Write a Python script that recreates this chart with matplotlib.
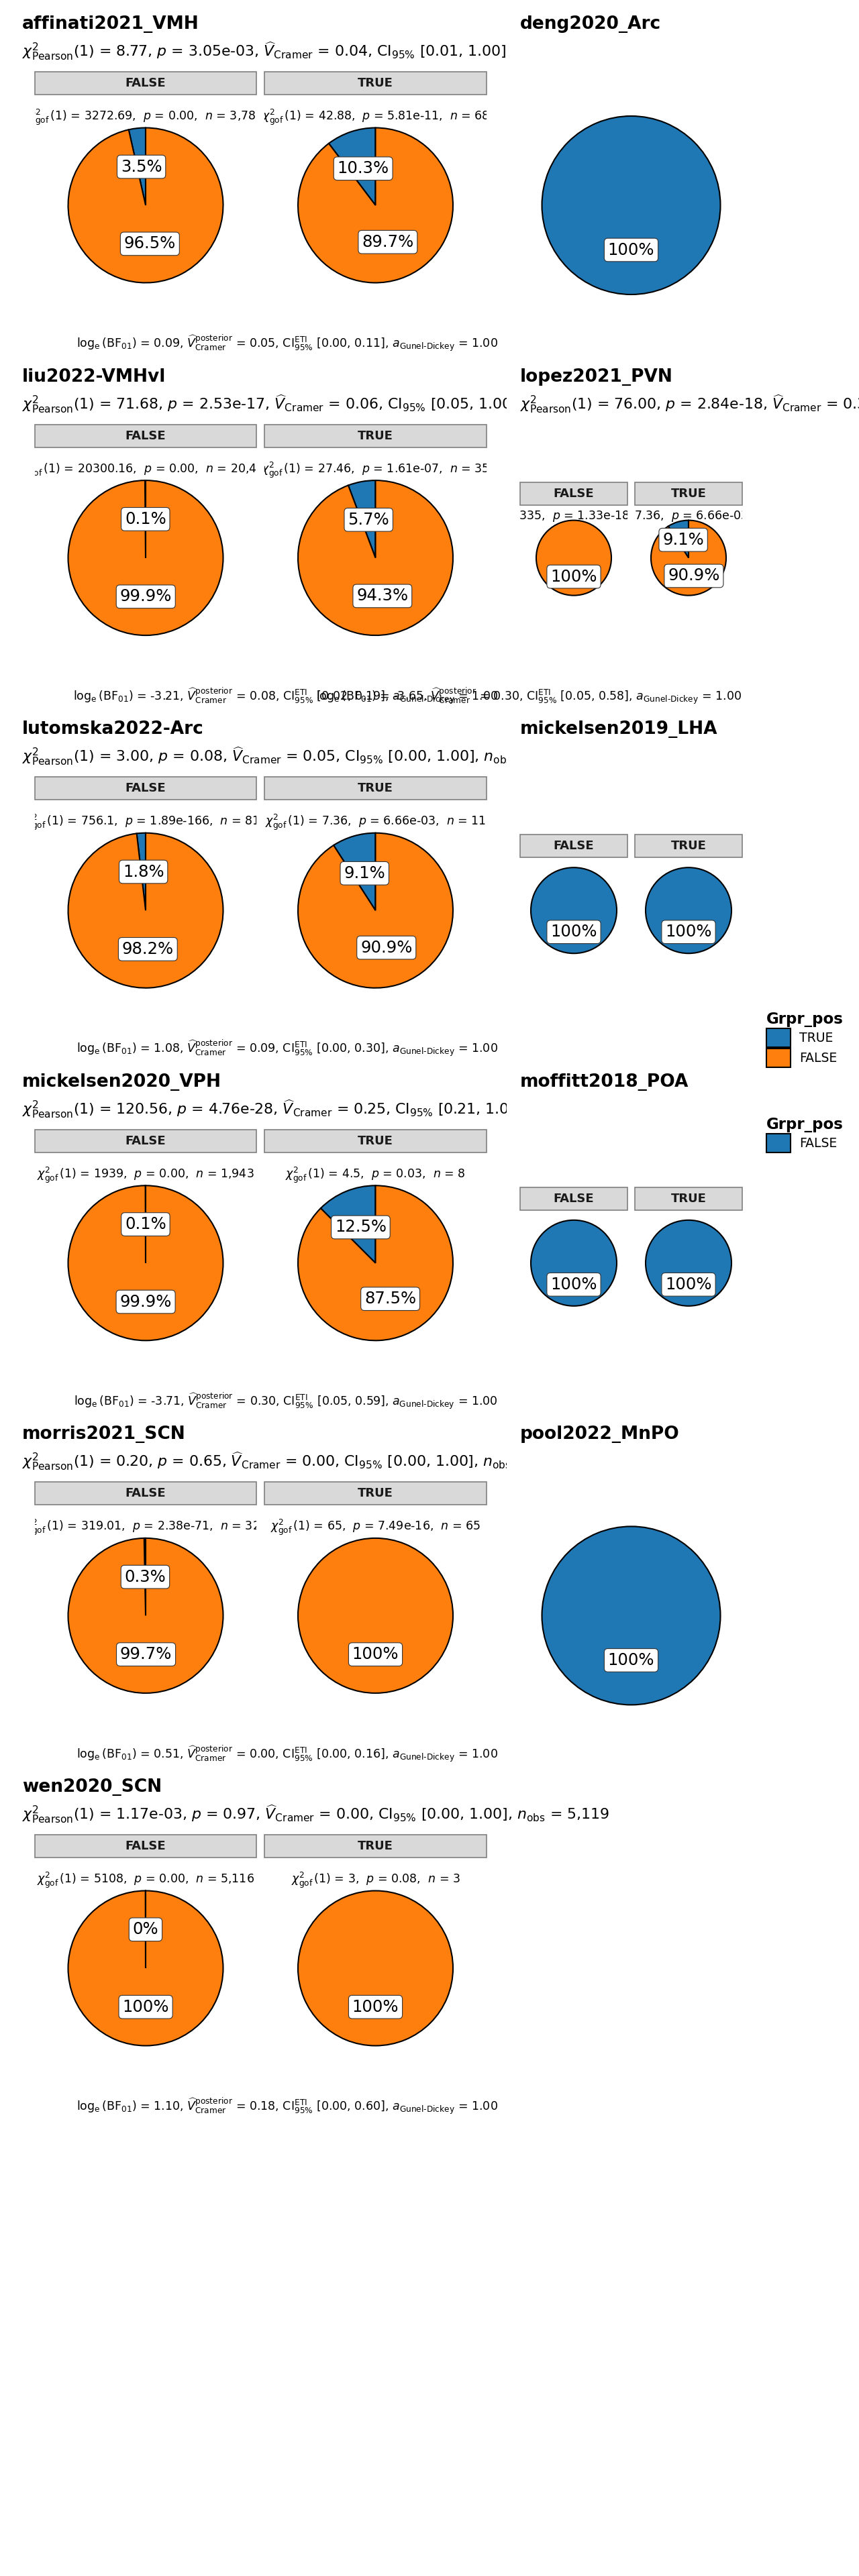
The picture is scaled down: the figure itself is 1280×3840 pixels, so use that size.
import matplotlib
matplotlib.use("Agg")
import matplotlib.pyplot as plt
from matplotlib.patches import Rectangle, Patch
from matplotlib.transforms import Bbox, TransformedBbox

# ---------------- data ----------------
left_titles = ["affinati2021_VMH", "liu2022-VMHvl", "lutomska2022-Arc",
               "mickelsen2020_VPH", "morris2021_SCN", "wen2020_SCN"]
left_chi = ["8.77", "71.68", "3.00", "120.56", "0.20", "1.17e-03"]
left_p = ["3.05e-03", "2.53e-17", "0.08", "4.76e-28", "0.65", "0.97"]
left_v = ["0.04", "0.06", "0.05", "0.25", "0.00", "0.00"]
left_ci = ["[0.01, 1.00]", "[0.05, 1.00]", "[0.00, 1.00]", "[0.21, 1.00]",
           "[0.00, 1.00]", "[0.00, 1.00]"]
left_nobs = ["3,854", "20,447", "826", "1,951", "388", "5,119"]

# counts of Grpr_pos [TRUE, FALSE] inside facet FALSE and facet TRUE
facetF_counts = [[133, 3653], [28, 20384], [15, 800], [1, 1942], [1, 322], [2, 5114]]
facetT_counts = [[7, 61], [2, 33], [1, 10], [1, 7], [0, 65], [0, 3]]
facetF_chi = ["3272.69", "20300.16", "756.1", "1939", "319.01", "5108"]
facetF_p = ["0.00", "0.00", "1.89e-166", "0.00", "2.38e-71", "0.00"]
facetT_chi = ["42.88", "27.46", "7.36", "4.5", "65", "3"]
facetT_p = ["5.81e-11", "1.61e-07", "6.66e-03", "0.03", "7.49e-16", "0.08"]

left_bf = ["0.09", "-3.21", "1.08", "-3.71", "0.51", "1.10"]
left_vpost = ["0.05", "0.08", "0.09", "0.30", "0.00", "0.18"]
left_eti = ["[0.00, 0.11]", "[0.02, 0.19]", "[0.00, 0.30]", "[0.05, 0.59]",
            "[0.00, 0.16]", "[0.00, 0.60]"]

right_titles = ["deng2020_Arc", "lopez2021_PVN", "mickelsen2019_LHA",
                "moffitt2018_POA", "pool2022_MnPO"]
right_kind = ["single", "stats", "facet", "facet", "single"]
right_single_counts = [[45], None, None, None, [120]]
right_facet_counts = [None, ([0, 77], [1, 10]), ([30], [6]), ([52], [4]), None]
lopez_sub = ("76.00", "2.84e-18", "0.30", "[0.23, 1.00]", "838")
lopez_gof = [("77.335", "1.33e-18", "77"), ("7.36", "6.66e-03", "11")]
lopez_cap = ("-3.65", "0.30", "[0.05, 0.58]")

facet_levels = ["FALSE", "TRUE"]
legend1_labels = ["TRUE", "FALSE"]
legend2_labels = ["FALSE"]

BLUE = "#1F77B4"
ORANGE = "#FF7F0E"

# ---------------- helpers ----------------
W, H = 1280, 3840
fig = plt.figure(figsize=(W / 100, H / 100), dpi=100)
fig.patch.set_facecolor("white")
ROW = 525.6


def fx(x):
    return x / W


def fy(y):
    return 1 - y / H


def pct_fmt(p):
    s = f"{p:.1f}"
    if s.endswith(".0"):
        s = s[:-2]
    return s + "%"


def add_pie(cx, cy, r, counts, colors, z):
    m = 1.05
    ax = fig.add_axes([fx(cx - r * m), fy(cy + r * m), 2 * r * m / W, 2 * r * m / H],
                      zorder=z)
    vals = [c for c in counts if c > 0]
    cols = [col for c, col in zip(counts, colors) if c > 0]
    _, _, autotexts = ax.pie(vals, colors=cols, startangle=90, counterclock=True,
                             autopct=pct_fmt, pctdistance=0.5,
                             wedgeprops=dict(edgecolor="black", linewidth=1.5),
                             textprops=dict(fontsize=17.5, color="black"))
    for t in autotexts:
        t.set_bbox(dict(boxstyle="round,pad=0.22", fc="white", ec="#333333", lw=0.8))
    ax.set_xlim(-m, m)
    ax.set_ylim(-m, m)
    ax.set_aspect("equal")
    ax.axis("off")
    return ax


def add_strip(x0, x1, y0, y1, label, z):
    fig.add_artist(Rectangle((fx(x0), fy(y1)), (x1 - x0) / W, (y1 - y0) / H,
                             transform=fig.transFigure, fc="#D9D9D9", ec="#7F7F7F",
                             lw=1.2, zorder=z))
    fig.text(fx((x0 + x1) / 2), fy((y0 + y1) / 2), label, ha="center", va="center",
             fontsize=13, fontweight="bold", color="#1A1A1A", zorder=z + 0.1)


def clipped_text(x, y, s, x0, x1, z, **kw):
    t = fig.text(fx(x), fy(y), s, zorder=z, clip_on=True, **kw)
    t.set_clip_box(TransformedBbox(Bbox([[fx(x0), 0], [fx(x1), 1]]), fig.transFigure))
    return t


def subtitle(chi, p, v, ci, n):
    return (r"$\chi^2_{\mathrm{Pearson}}$(1) = " + chi + r", $p$ = " + p +
            r", $\widehat{V}_{\mathrm{Cramer}}$ = " + v + r", CI$_{95\%}$ " + ci +
            r", $n_{\mathrm{obs}}$ = " + n)


def gofline(chi, p, n):
    return (r"$\chi^2_{\mathrm{gof}}\,(1)$ = " + chi + r",  $p$ = " + p +
            r",  $n$ = " + n)


HYPH = "\u2010"


def caption(bf, v, eti):
    return (r"$\log_{\mathrm{e}}\left(\mathrm{BF}_{01}\right)$ = " + bf +
            r", $\widehat{V}^{\mathrm{posterior}}_{\mathrm{Cramer}}$ = " + v +
            r", CI$^{\mathrm{ETI}}_{95\%}$ " + eti +
            r", $a_{\mathrm{Gunel" + HYPH + r"Dickey}}$ = 1.00")


SUB_FS = 15.8

# ---------------- left column ----------------
for i in range(len(left_titles)):
    T = ROW * i
    fig.text(fx(33), fy(T + 43), left_titles[i], fontsize=19, fontweight="bold",
             ha="left", va="baseline", zorder=3)
    fig.text(fx(33), fy(T + 84), subtitle(left_chi[i], left_p[i], left_v[i], left_ci[i],
                                          left_nobs[i]),
             fontsize=SUB_FS, ha="left", va="baseline", zorder=3)
    strips = [(52, 382), (394, 725)]
    counts = [facetF_counts[i], facetT_counts[i]]
    chis = [facetF_chi[i], facetT_chi[i]]
    ps = [facetF_p[i], facetT_p[i]]
    for k in range(2):
        x0, x1 = strips[k]
        add_strip(x0, x1, T + 107, T + 141, facet_levels[k], 1)
        n = sum(counts[k])
        clipped_text((x0 + x1) / 2, T + 179, gofline(chis[k], ps[k], f"{n:,}"),
                     x0, x1, 3, fontsize=12.5, ha="center", va="baseline")
        add_pie((x0 + x1) / 2, T + 306, 115.5, counts[k], [BLUE, ORANGE], 0)
    fig.text(fx(742), fy(T + 518), caption(left_bf[i], left_vpost[i], left_eti[i]),
             fontsize=12.5, ha="right", va="baseline", zorder=3)

# ---------------- right column ----------------
for j in range(len(right_titles)):
    T = ROW * j
    fig.add_artist(Rectangle((fx(755), fy(T + ROW)), (W - 755) / W, ROW / H,
                             transform=fig.transFigure, fc="white", ec="none", zorder=4))
    fig.text(fx(775), fy(T + 43), right_titles[j], fontsize=19, fontweight="bold",
             ha="left", va="baseline", zorder=6)
    kind = right_kind[j]
    if kind == "single":
        add_pie(940.5, T + 306, 133, right_single_counts[j], [BLUE], 6)
    else:
        strips = [(775, 935), (946, 1106)]
        for k in range(2):
            x0, x1 = strips[k]
            add_strip(x0, x1, T + 193, T + 227, facet_levels[k], 6)
        if kind == "stats":
            fig.text(fx(775), fy(T + 84), subtitle(*lopez_sub), fontsize=SUB_FS,
                     ha="left", va="baseline", zorder=6)
            shifts = [-17, 0]
            for k in range(2):
                x0, x1 = strips[k]
                clipped_text((x0 + x1) / 2 + shifts[k], T + 249, gofline(*lopez_gof[k]),
                             x0, x1, 6, fontsize=12.5, ha="center", va="baseline")
                add_pie((x0 + x1) / 2, T + 306, 56, right_facet_counts[j][k],
                        [BLUE, ORANGE], 6)
            fig.text(fx(1105), fy(T + 518), caption(*lopez_cap), fontsize=12.5,
                     ha="right", va="baseline", zorder=6)
        else:
            for k in range(2):
                x0, x1 = strips[k]
                add_pie((x0 + x1) / 2, T + 306, 64, right_facet_counts[j][k], [BLUE], 6)


# ---------------- legends ----------------
def make_legend(labels, colors, top):
    handles = [Patch(facecolor=c, edgecolor="black", linewidth=1.5, label=l)
               for l, c in zip(labels, colors)]
    leg = fig.legend(handles=handles, title="Grpr_pos", loc="upper left",
                     bbox_to_anchor=(fx(1142), fy(top)), frameon=False,
                     fontsize=13.5, title_fontproperties=dict(weight="bold", size=16.5),
                     alignment="left", handlelength=1.92, handleheight=1.92,
                     labelspacing=0.12, handletextpad=0.7, borderpad=0,
                     borderaxespad=0)
    leg.set_zorder(10)
    return leg


make_legend(legend1_labels, [BLUE, ORANGE], 1508)
make_legend(legend2_labels, [BLUE], 1665)

fig.savefig("out.png", dpi=100, facecolor="white")
